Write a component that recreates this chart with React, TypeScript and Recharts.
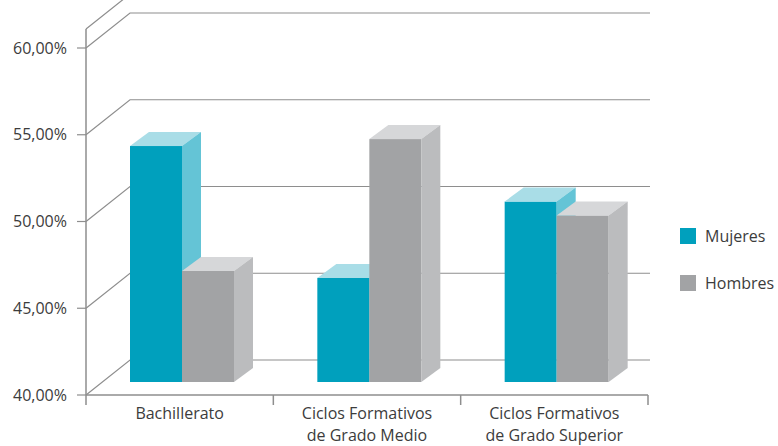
import { BarChart, Bar, XAxis, YAxis, CartesianGrid, Legend } from "recharts";

const categories = ["Bachillerato", "Ciclos Formativos\nde Grado Medio", "Ciclos Formativos\nde Grado Superior"];
const mujeres = [53.6, 46.0, 50.4];
const hombres = [46.4, 54.0, 49.6];
const yTicks = [40, 45, 50, 55, 60];
const seriesOrder = ["Mujeres", "Hombres"];

const data = categories.map((c, i) => ({ name: c, mujeres: mujeres[i], hombres: hombres[i] }));

// fake depth
const BAR_SHIFT_X = 2;
const BAR_SHIFT_Y = -13;
const BAR_DX = 19;
const BAR_DY = -14;
const WALL_DX = 44;
const WALL_DY = -35;
const BAND = 562 / 3;

const TEXT = "#3c3c3c";
const LINE = "#8e8e8e";
const FONT = "'Open Sans', sans-serif";

const makeBar3D = (front: string, top: string, side: string) => (props: any) => {
  const { x, y, width, height } = props;
  const ox = x + BAR_SHIFT_X;
  const oy = y + BAR_SHIFT_Y;
  const w = width;
  const h = height;
  return (
    <g>
      <rect x={ox} y={oy} width={w} height={h} fill={front} />
      <polygon
        points={`${ox},${oy} ${ox + w},${oy} ${ox + w + BAR_DX},${oy + BAR_DY} ${ox + BAR_DX},${oy + BAR_DY}`}
        fill={top}
      />
      <polygon
        points={`${ox + w},${oy} ${ox + w + BAR_DX},${oy + BAR_DY} ${ox + w + BAR_DX},${oy + h + BAR_DY} ${ox + w},${oy + h}`}
        fill={side}
      />
    </g>
  );
};

const gridLine = (props: any) => {
  const { x1, y1, x2 } = props;
  return (
    <path
      key={`g-${y1}`}
      d={`M${x1},${y1} L${x1 + WALL_DX},${y1 + WALL_DY} L${x2 + 2},${y1 + WALL_DY}`}
      stroke={LINE}
      strokeWidth={1.2}
      fill="none"
    />
  );
};

const XTick = (props: any) => {
  const { x, y, payload, index } = props;
  const lines = String(payload.value).split("\n");
  const left = x - BAND / 2;
  return (
    <g>
      <line x1={left} y1={y} x2={left} y2={y + 10} stroke={LINE} strokeWidth={1.5} />
      {index === categories.length - 1 && (
        <line x1={x + BAND / 2} y1={y} x2={x + BAND / 2} y2={y + 10} stroke={LINE} strokeWidth={1.5} />
      )}
      {lines.map((l, i) => (
        <text key={i} x={x} y={y + 24 + i * 22} textAnchor="middle" fill={TEXT} fontSize={16} fontFamily={FONT}>
          {l}
        </text>
      ))}
    </g>
  );
};

const LegendContent = (props: any) => {
  const items = [...(props.payload || [])].sort(
    (a: any, b: any) => seriesOrder.indexOf(a.value) - seriesOrder.indexOf(b.value)
  );
  return (
    <div>
      {items.map((p: any, i: number) => (
        <div key={i} style={{ display: "flex", alignItems: "center", height: 47 }}>
          <span style={{ width: 16, height: 16, background: p.color, display: "inline-block", marginRight: 9 }} />
          <span style={{ fontFamily: FONT, fontSize: 16, color: TEXT }}>{p.value}</span>
        </div>
      ))}
    </div>
  );
};

export default function App() {
  return (
    <div style={{ position: "absolute", left: 0, top: 0, background: "#fff" }}>
      <BarChart
        width={778}
        height={446}
        data={data}
        margin={{ top: 29, right: 130, bottom: 0, left: 0 }}
        barSize={52}
        barGap={0}
      >
        <CartesianGrid horizontal={gridLine} vertical={false} />
        <XAxis
          dataKey="name"
          height={51}
          tickLine={false}
          tickSize={0}
          tickMargin={0}
          axisLine={{ stroke: LINE, strokeWidth: 1.5 }}
          tick={<XTick />}
          interval={0}
        />
        <YAxis
          width={86}
          domain={[40, 61.095]}
          ticks={yTicks}
          allowDataOverflow
          tickSize={9}
          tickMargin={10}
          axisLine={{ stroke: LINE, strokeWidth: 1.5 }}
          tickLine={{ stroke: LINE, strokeWidth: 1.2 }}
          tick={{ fill: TEXT, fontSize: 16, fontFamily: FONT }}
          tickFormatter={(v: number) => v.toFixed(2).replace(".", ",") + "%"}
        />
        <Legend
          layout="vertical"
          align="center"
          verticalAlign="middle"
          content={<LegendContent />}
          wrapperStyle={{ left: 680, top: 212, width: 98 }}
        />
        <Bar
          dataKey="mujeres"
          name="Mujeres"
          fill="#00a0bd"
          shape={makeBar3D("#00a0bd", "#a9dde7", "#64c4d6")}
          isAnimationActive={false}
        />
        <Bar
          dataKey="hombres"
          name="Hombres"
          fill="#a2a3a5"
          shape={makeBar3D("#a2a3a5", "#d6d7d9", "#bbbcbe")}
          isAnimationActive={false}
        />
      </BarChart>
    </div>
  );
}
